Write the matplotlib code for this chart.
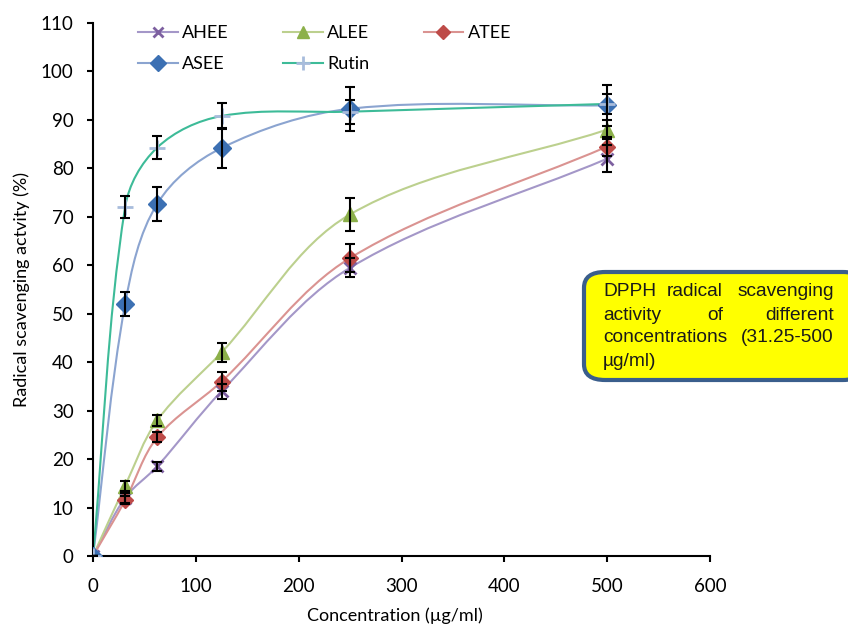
import numpy as np
import matplotlib
matplotlib.use("Agg")
import matplotlib.pyplot as plt
from matplotlib.path import Path
from matplotlib.patches import PathPatch, FancyBboxPatch
from matplotlib.lines import Line2D

# concentrations (ug/ml)
conc = [0, 31.25, 62.5, 125, 250, 500]

# % radical scavenging activity
ahee = [0, 12.0, 18.5, 34.0, 59.5, 82.0]
alee = [0, 14.5, 28.0, 42.0, 70.5, 88.0]
atee = [0, 11.5, 24.5, 36.0, 61.5, 84.5]
asee = [0, 52.0, 72.7, 84.2, 92.3, 93.0]
rutin = [0, 72.0, 84.3, 90.8, 91.7, 93.3]

# error bar half-widths
ahee_err = [0, 1.0, 1.0, 1.5, 2.0, 2.8]
alee_err = [0, 1.0, 1.2, 2.0, 3.4, 2.0]
atee_err = [0, 0.8, 1.0, 2.0, 2.8, 2.0]
asee_err = [0, 2.5, 3.5, 4.2, 4.5, 4.2]
rutin_err = [0, 2.3, 2.3, 2.7, 2.5, 2.0]

x_ticks = [0, 100, 200, 300, 400, 500, 600]
y_ticks = [0, 10, 20, 30, 40, 50, 60, 70, 80, 90, 100, 110]

plt.rcParams["font.family"] = ["Lato", "DejaVu Sans"]

W, H = 848, 628
AX_L, AX_R, AX_B, AX_T = 93, 710, 556, 23
SX = (AX_R - AX_L) / 600.0   # px per x unit, used so the smoothing is done in screen space
SY = (AX_B - AX_T) / 110.0


def smooth_path(x, y):
    # Excel-like smoothed line: cubic Beziers, tangents from neighbours, chord-length handles
    p = np.column_stack([np.asarray(x) * SX, np.asarray(y) * SY]).astype(float)
    n = len(p)
    tang = []
    for i in range(n):
        d = p[min(i + 1, n - 1)] - p[max(i - 1, 0)]
        tang.append(d / np.hypot(*d))
    verts, codes = [tuple(p[0])], [Path.MOVETO]
    for i in range(n - 1):
        L = np.hypot(*(p[i + 1] - p[i])) / 3
        verts += [tuple(p[i] + tang[i] * L), tuple(p[i + 1] - tang[i + 1] * L), tuple(p[i + 1])]
        codes += [Path.CURVE4] * 3
    v = np.array(verts)
    v[:, 0] /= SX
    v[:, 1] /= SY
    return Path(v, codes)


series = [
    # label, values, errors, marker, marker color, line color, size
    ("AHEE", ahee, ahee_err, "x", "#7D60A0", "#A497C8", 9),
    ("ALEE", alee, alee_err, "^", "#8CB04A", "#BCD08E", 10),
    ("ATEE", atee, atee_err, "D", "#BE4B48", "#DA9391", 8),
    ("ASEE", asee, asee_err, "D", "#3C70B3", "#8BA4D0", 9),
    ("Rutin", rutin, rutin_err, "+", "#A8BCDC", "#3DBB98", 12),
]

fig = plt.figure(figsize=(W / 100, H / 100), dpi=100)
ax = fig.add_axes([AX_L / W, 1 - AX_B / H, (AX_R - AX_L) / W, (AX_B - AX_T) / H])

handles = {}
for name, vals, err, mk, mc, lc, ms in series:
    ax.add_patch(PathPatch(smooth_path(conc, vals), fill=False, edgecolor=lc, lw=1.5, zorder=2))
    mew = 2 if mk in ("x", "+") else 1
    ax.plot(conc, vals, ls="none", marker=mk, ms=ms, color=mc, mec=mc, mew=mew, zorder=3)
    ax.errorbar(conc, vals, yerr=err, fmt="none", ecolor="black", elinewidth=1.5,
                capsize=3.5, capthick=1.5, zorder=4)
    lms = ms * 0.85
    handles[name] = Line2D([], [], color=lc, lw=1.5, marker=mk, ms=lms, mfc=mc, mec=mc, mew=mew)

ax.set_xlim(0, 600)
ax.set_ylim(0, 110)
ax.set_xticks(x_ticks)
ax.set_yticks(y_ticks)
ax.tick_params(labelsize=13.5, width=1.5, length=4, direction="out", colors="black")
ax.tick_params(axis="y", pad=10)
ax.tick_params(axis="x", pad=12)
for s in ("top", "right"):
    ax.spines[s].set_visible(False)
for s in ("left", "bottom"):
    ax.spines[s].set_linewidth(1.5)
ax.set_xlabel("Concentration (\u00b5g/ml)", fontsize=13)
ax.set_ylabel("Radical scavenging actvity (%)", fontsize=13)
ax.xaxis.set_label_coords(0.49, -0.097)
ax.yaxis.set_label_coords(-0.102, 0.5)

order = ["AHEE", "ASEE", "ALEE", "Rutin", "ATEE"]
ax.legend([handles[k] for k in order], order, ncol=3, frameon=False, fontsize=13,
          loc="upper left", bbox_to_anchor=((138 - AX_L) / 617, 0.996),
          borderaxespad=0, borderpad=0, columnspacing=3.0,
          handlelength=2.2, handletextpad=0.25, labelspacing=0.85)

# yellow note box
box = FancyBboxPatch((584 / W, 1 - 380 / H), 280 / W, 108 / H,
                     boxstyle="round,pad=0,rounding_size=0.025", transform=fig.transFigure,
                     facecolor="#FFFF00", edgecolor="#3A5E8C", lw=3, zorder=5)
fig.patches.append(box)
words = [
    ("DPPH", 603, 291, "left"), ("radical", 667, 291, "left"), ("scavenging", 834, 291, "right"),
    ("activity", 603, 315, "left"), ("of", 707, 315, "left"), ("different", 834, 315, "right"),
    ("concentrations", 603, 338, "left"), ("(31.25-500", 834, 338, "right"),
    ("\u00b5g/ml)", 603, 362, "left"),
]
for w, px, py, ha in words:
    fig.text(px / W, 1 - py / H, w, ha=ha, va="center", fontsize=13.8,
             family="Liberation Sans", color="#1a1a1a", zorder=6)

fig.savefig("out.png", dpi=100)
